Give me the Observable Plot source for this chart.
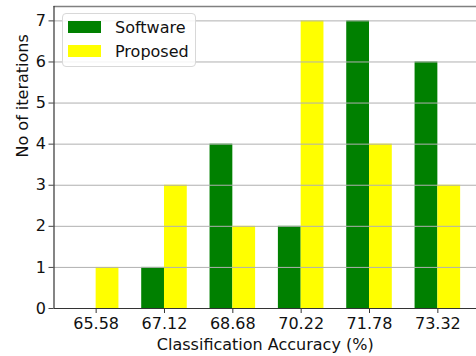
<!DOCTYPE html>
<html>
<head>
<meta charset="utf-8">
<script src="https://cdn.jsdelivr.net/npm/d3@7"></script>
<script src="https://cdn.jsdelivr.net/npm/@observablehq/plot@0.6"></script>
<style>
  html, body { margin: 0; padding: 0; background: #fff; overflow: hidden; }
  #wrap { position: relative; width: 476px; height: 356px; font-family: "DejaVu Sans", sans-serif; }
  #wrap svg { overflow: hidden; }
  .legend { position: absolute; left: 62px; top: 13px; width: 134px; height: 54px; border: 1px solid #d8d8d8; border-radius: 4px; background: rgba(255,255,255,0.85); box-sizing: border-box; }
  .legend .row { position: absolute; left: 5px; height: 12px; display: flex; align-items: center; font-size: 16px; color: #111; }
  .legend .sw { width: 33px; height: 12px; margin-right: 14px; flex: none; }
</style>
</head>
<body>
<div id="wrap"></div>
<script>
const categories = ["65.58", "67.12", "68.68", "70.22", "71.78", "73.32"];
const software = [0, 1, 4, 2, 7, 6];
const proposed = [1, 3, 2, 7, 4, 3];
const yTicks = [0, 1, 2, 3, 4, 5, 6, 7];
const seriesNames = ["Software", "Proposed"];
const seriesColors = ["#008000", "#ffff00"];

const barW = 1 / 3;
const n = categories.length;
const pad = (n - 1 + 2 * barW) * 0.05;
const xMin = -barW - pad;
const xMax = n - 1 + barW + pad;
const rows = categories.flatMap((c, i) => [
  { i, cat: c, series: "Software", value: software[i] },
  { i, cat: c, series: "Proposed", value: proposed[i] }
]);

const chart = Plot.plot({
  width: 476,
  height: 356,
  marginTop: 6,
  marginBottom: 48,
  marginLeft: 53.5,
  marginRight: 0,
  style: { fontFamily: "DejaVu Sans, sans-serif", fontSize: "16px", color: "#111", background: "#fff" },
  x: { type: "linear", domain: [xMin, xMax], range: [53.5, 479.5] },
  y: { domain: [0, 7.35] },
  color: { domain: seriesNames, range: seriesColors },
  marks: [
    Plot.rectY(rows, {
      x1: d => d.series === "Software" ? d.i - barW : d.i,
      x2: d => d.series === "Software" ? d.i : d.i + barW,
      y1: 0,
      y2: "value",
      fill: "series",
      inset: 0
    }),
    Plot.ruleY(yTicks.filter(t => t > 0), { stroke: "#b0b0b0", strokeWidth: 1 }),
    Plot.ruleY([7.35], { stroke: "#808080", strokeWidth: 1.5 }),
    Plot.axisY({ ticks: yTicks, tickSize: 5, tickPadding: 3, fontSize: 16, label: null, stroke: "#444", fill: "#111" }),
    Plot.axisX({ ticks: d3.range(n), tickFormat: i => categories[i], tickSize: 5, tickPadding: 4, fontSize: 16, label: null, stroke: "#333", fill: "#111" }),
    Plot.ruleX([xMin], { stroke: "#333", strokeWidth: 1.2 }),
    Plot.ruleY([0], { stroke: "#333", strokeWidth: 1.2 }),
    Plot.text(["Classification Accuracy (%)"], { frameAnchor: "bottom", dy: 41, fontSize: 16, fill: "#111" }),
    Plot.text(["No of iterations"], { frameAnchor: "left", dx: -31, rotate: -90, fontSize: 16, fill: "#111" })
  ]
});

const wrap = document.getElementById("wrap");
wrap.appendChild(chart);

const legend = document.createElement("div");
legend.className = "legend";
seriesNames.forEach((name, k) => {
  const row = document.createElement("div");
  row.className = "row";
  row.style.top = (7 + k * 24) + "px";
  const sw = document.createElement("span");
  sw.className = "sw";
  sw.style.background = seriesColors[k];
  const t = document.createElement("span");
  t.textContent = name;
  row.appendChild(sw);
  row.appendChild(t);
  legend.appendChild(row);
});
wrap.appendChild(legend);
</script>
</body>
</html>
